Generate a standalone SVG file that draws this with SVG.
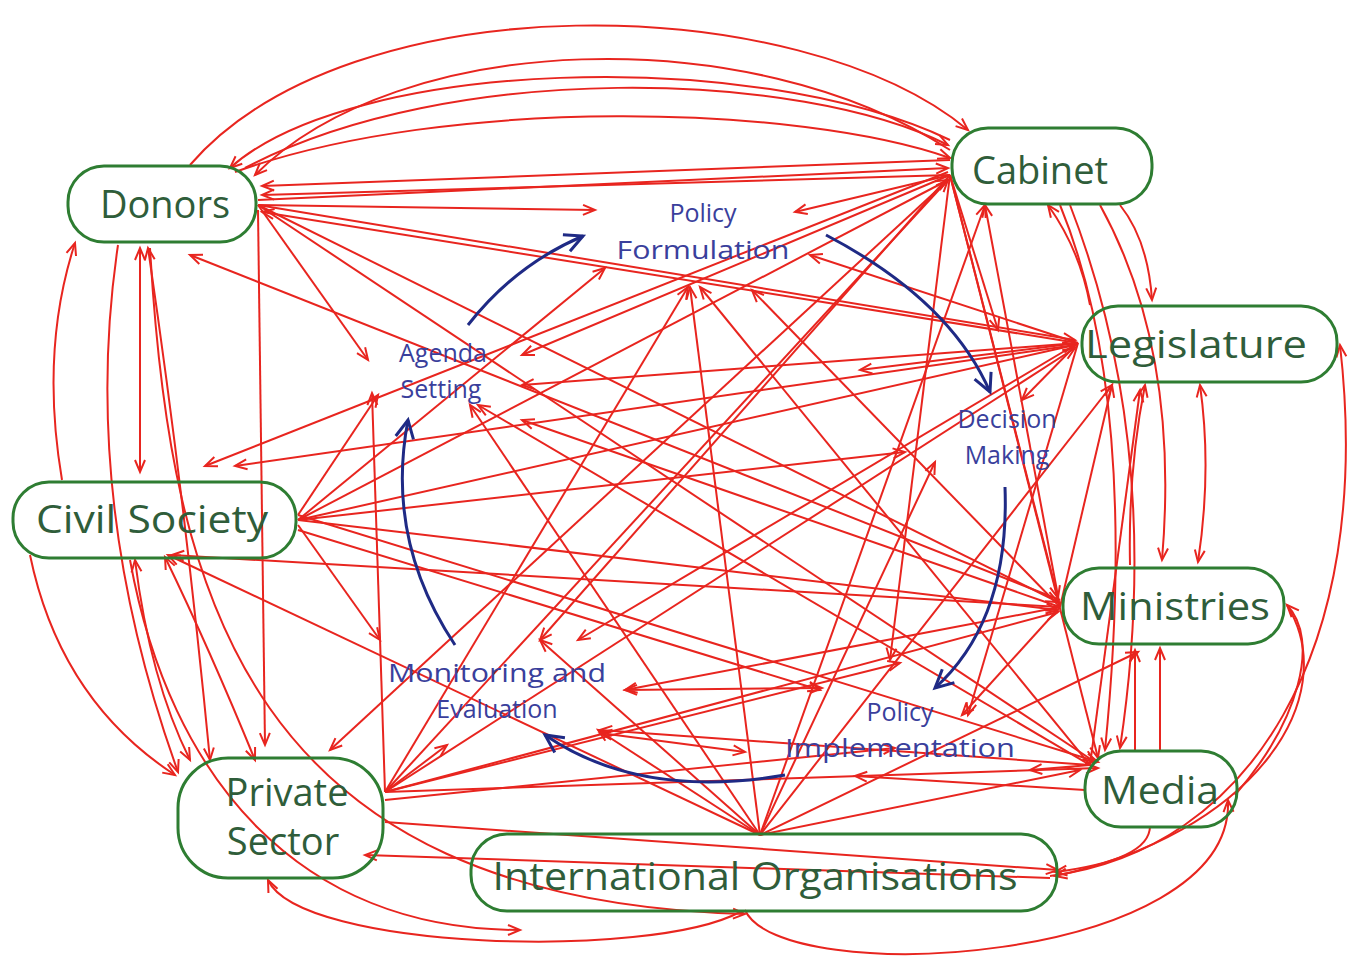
<svg xmlns="http://www.w3.org/2000/svg" width="1355" height="966" viewBox="0 0 1355 966">
<style>
.r{fill:none;stroke:#e8251f;stroke-width:2;marker-end:url(#ar)}
.d{fill:none;stroke:#e8251f;stroke-width:2;marker-end:url(#ar);marker-start:url(#ar)}
.bl{fill:none;stroke:#1f2a85;stroke-width:3;marker-end:url(#ab)}
.box{fill:none;stroke:#2e7d32;stroke-width:3}
.nt{font-family:"Open Sans","Noto Sans",sans-serif;font-size:38px;fill:#2f5d3a;text-anchor:middle}
.st{font-family:"Open Sans","Noto Sans",sans-serif;font-size:25px;fill:#3a3f9c;text-anchor:middle}
</style>
<defs>
<marker id="ar" markerUnits="userSpaceOnUse" markerWidth="16" markerHeight="14" refX="13" refY="6" orient="auto-start-reverse" viewBox="0 0 16 12"><path d="M1,1 L13,6 L1,11" fill="none" stroke="#e8251f" stroke-width="2"/></marker>
<marker id="ab" markerUnits="userSpaceOnUse" markerWidth="24" markerHeight="22" refX="20" refY="10" orient="auto" viewBox="0 0 24 20"><path d="M2,1 L20,10 L2,19" fill="none" stroke="#1f2a85" stroke-width="3"/></marker>
</defs>
<rect width="1355" height="966" fill="#ffffff"/>
<g id="connectors">
<!-- Donors -->
<path class="r" d="M258 205 L595 210"/>
<path class="r" d="M258 200 L948 168"/>
<path class="r" d="M258 205 L1075 340"/>
<path class="r" d="M258 205 L1058 602"/>
<path class="r" d="M258 205 L368 360"/>
<path class="r" d="M258 205 L1095 762"/>
<path class="r" d="M950 160 L262 186"/>
<path class="r" d="M950 175 L262 195"/>
<path class="r" d="M1060 600 L190 255"/>
<path class="r" d="M258 210 L265 745"/>
<!-- Civil Society -->
<path class="r" d="M298 520 L948 180"/>
<path class="r" d="M298 520 L1075 345"/>
<path class="r" d="M298 520 L905 452"/>
<path class="r" d="M298 520 L1058 610"/>
<path class="r" d="M298 515 L1098 762"/>
<path class="r" d="M298 525 L380 640"/>
<path class="r" d="M298 515 L378 395"/>
<path class="r" d="M298 520 L605 268"/>
<path class="r" d="M298 530 L820 690"/>
<path class="r" d="M948 172 L205 466"/>
<path class="r" d="M1075 345 L235 466"/>
<!-- Private Sector -->
<path class="r" d="M385 792 L948 180"/>
<path class="r" d="M385 792 L688 287"/>
<path class="r" d="M385 792 L1075 348"/>
<path class="r" d="M385 792 L1058 612"/>
<path class="r" d="M385 792 L900 663"/>
<path class="r" d="M385 792 L1098 768"/>
<path class="r" d="M385 792 L372 393"/>
<path class="r" d="M385 792 L447 745"/>
<path class="r" d="M385 800 L895 748"/>
<path class="r" d="M948 180 L330 750"/>
<path class="r" d="M385 822 L1058 870"/>
<path class="r" d="M1050 878 L365 855"/>
<!-- International Organisations -->
<path class="r" d="M760 835 L690 287"/>
<path class="r" d="M760 835 L985 205"/>
<path class="r" d="M760 835 L1112 385"/>
<path class="r" d="M760 835 L470 405"/>
<path class="r" d="M760 835 L168 555"/>
<path class="r" d="M760 835 L598 730"/>
<path class="r" d="M760 835 L1138 652"/>
<path class="r" d="M760 835 L935 462"/>
<path class="r" d="M760 835 L540 640"/>
<path class="r" d="M760 835 L1080 770"/>
<!-- Cabinet -->
<path class="r" d="M950 175 L795 212"/>
<path class="r" d="M950 175 L522 355"/>
<path class="r" d="M950 175 L540 640"/>
<path class="r" d="M950 175 L890 660"/>
<path class="r" d="M950 175 L1058 598"/>
<path class="r" d="M950 175 L1098 758"/>
<path class="r" d="M950 175 L998 330"/>
<!-- Legislature -->
<path class="r" d="M1078 343 L810 255"/>
<path class="r" d="M1078 343 L522 385"/>
<path class="r" d="M1078 343 L1022 400"/>
<path class="r" d="M1078 343 L578 640"/>
<path class="r" d="M1078 343 L968 715"/>
<path class="r" d="M1078 343 L262 212"/>
<path class="r" d="M1078 343 L860 370"/>
<!-- Ministries -->
<path class="r" d="M1060 607 L752 290"/>
<path class="r" d="M1060 607 L522 420"/>
<path class="r" d="M1060 607 L625 690"/>
<path class="r" d="M1060 607 L962 715"/>
<path class="r" d="M1060 607 L985 205"/>
<path class="r" d="M1060 607 L172 555"/>
<path class="r" d="M1060 607 L1112 385"/>
<!-- Media -->
<path class="r" d="M1090 765 L700 287"/>
<path class="r" d="M1090 765 L478 405"/>
<path class="r" d="M1090 765 L600 730"/>
<path class="r" d="M1090 765 L1140 390"/>
<path class="r" d="M1085 790 L855 776"/>
<path class="r" d="M1090 765 L1030 770"/>
<path class="d" d="M625 690 L822 688"/>
<path class="d" d="M600 733 L745 752"/>
<!-- right side curves -->
<path class="r" d="M1120 205 Q1148 240 1152 300"/>
<path class="r" d="M1090 305 Q1080 250 1048 205"/>
<path class="r" d="M1100 205 Q1180 350 1162 560"/>
<path class="r" d="M1130 565 Q1128 470 1145 385"/>
<path class="d" d="M1200 385 Q1212 470 1198 562"/>
<path class="r" d="M1070 205 Q1165 450 1120 748"/>
<path class="r" d="M1060 205 Q1140 400 1105 750"/>
<path class="r" d="M1135 750 L1135 650"/>
<path class="r" d="M1160 750 L1160 648"/>
<path class="r" d="M1050 876 C1250 850 1375 650 1340 345"/>
<path class="r" d="M1235 795 C1300 720 1320 640 1287 605"/>
<path class="r" d="M1287 605 C1345 700 1250 835 1055 876"/>
<path class="r" d="M745 910 C780 990 1235 965 1228 800"/>
<path class="r" d="M1150 826 Q1150 860 1055 872"/>
<!-- bottom left curves -->
<path class="r" d="M740 912 C650 960 300 950 268 880"/>
<path class="r" d="M150 248 C170 600 250 900 745 914"/>
<path class="r" d="M130 560 C170 780 300 930 520 930"/>
<!-- left curves -->
<path class="r" d="M62 480 Q40 350 75 243"/>
<path class="r" d="M118 245 Q80 500 178 772"/>
<path class="d" d="M140 248 L140 472"/>
<path class="d" d="M148 248 Q185 500 210 760"/>
<path class="r" d="M30 555 Q60 700 175 775"/>
<path class="d" d="M135 560 Q150 680 190 760"/>
<path class="d" d="M165 557 Q210 650 255 760"/>
<!-- top arcs -->
<path class="r" d="M190 165 C350 -20 800 -10 968 130"/>
<path class="r" d="M950 150 C750 20 400 30 255 175"/>
<path class="r" d="M245 168 C450 60 800 70 948 145"/>
<path class="r" d="M235 172 C450 95 800 105 950 158"/>
<path class="r" d="M950 140 C750 45 350 60 230 168"/>
</g>
<g id="cycle">
<path class="bl" d="M468 325 Q515 265 583 236"/>
<path class="bl" d="M826 235 Q950 300 990 392"/>
<path class="bl" d="M1005 487 Q1010 620 935 688"/>
<path class="bl" d="M785 775 Q640 800 545 735"/>
<path class="bl" d="M455 645 Q385 540 408 420"/>
</g>
<g id="stages">
<text class="st" x="703" y="222">Policy</text>
<text class="st" x="703" y="259" textLength="173" lengthAdjust="spacingAndGlyphs">Formulation</text>
<text class="st" x="443" y="362">Agenda</text>
<text class="st" x="441" y="398">Setting</text>
<text class="st" x="1007" y="428">Decision</text>
<text class="st" x="1007" y="464">Making</text>
<text class="st" x="497" y="682" textLength="218" lengthAdjust="spacingAndGlyphs">Monitoring and</text>
<text class="st" x="497" y="718">Evaluation</text>
<text class="st" x="900" y="721">Policy</text>
<text class="st" x="900" y="757" textLength="230" lengthAdjust="spacingAndGlyphs">Implementation</text>
</g>
<g id="donors"><rect class="box" x="68" y="166" width="188" height="76" rx="36"/><text class="nt" x="165" y="218">Donors</text></g>
<g id="cabinet"><rect class="box" x="952" y="128" width="200" height="76" rx="36"/><text class="nt" x="1040" y="184">Cabinet</text></g>
<g id="legislature"><rect class="box" x="1082" y="306" width="255" height="76" rx="36"/><text class="nt" x="1196" y="358" textLength="222" lengthAdjust="spacingAndGlyphs">Legislature</text></g>
<g id="civil-society"><rect class="box" x="13" y="482" width="283" height="76" rx="36"/><text class="nt" x="152" y="533" textLength="232" lengthAdjust="spacingAndGlyphs">Civil Society</text></g>
<g id="ministries"><rect class="box" x="1063" y="568" width="221" height="76" rx="36"/><text class="nt" x="1175" y="620" textLength="190" lengthAdjust="spacingAndGlyphs">Ministries</text></g>
<g id="media"><rect class="box" x="1085" y="751" width="152" height="76" rx="36"/><text class="nt" x="1160" y="804" textLength="118" lengthAdjust="spacingAndGlyphs">Media</text></g>
<g id="private-sector"><rect class="box" x="178" y="758" width="205" height="120" rx="50"/><text class="nt" x="287" y="806">Private</text><text class="nt" x="283" y="855">Sector</text></g>
<g id="international-organisations"><rect class="box" x="471" y="834" width="586" height="77" rx="36"/><text class="nt" x="755" y="890" textLength="525" lengthAdjust="spacingAndGlyphs">International Organisations</text></g>
</svg>
